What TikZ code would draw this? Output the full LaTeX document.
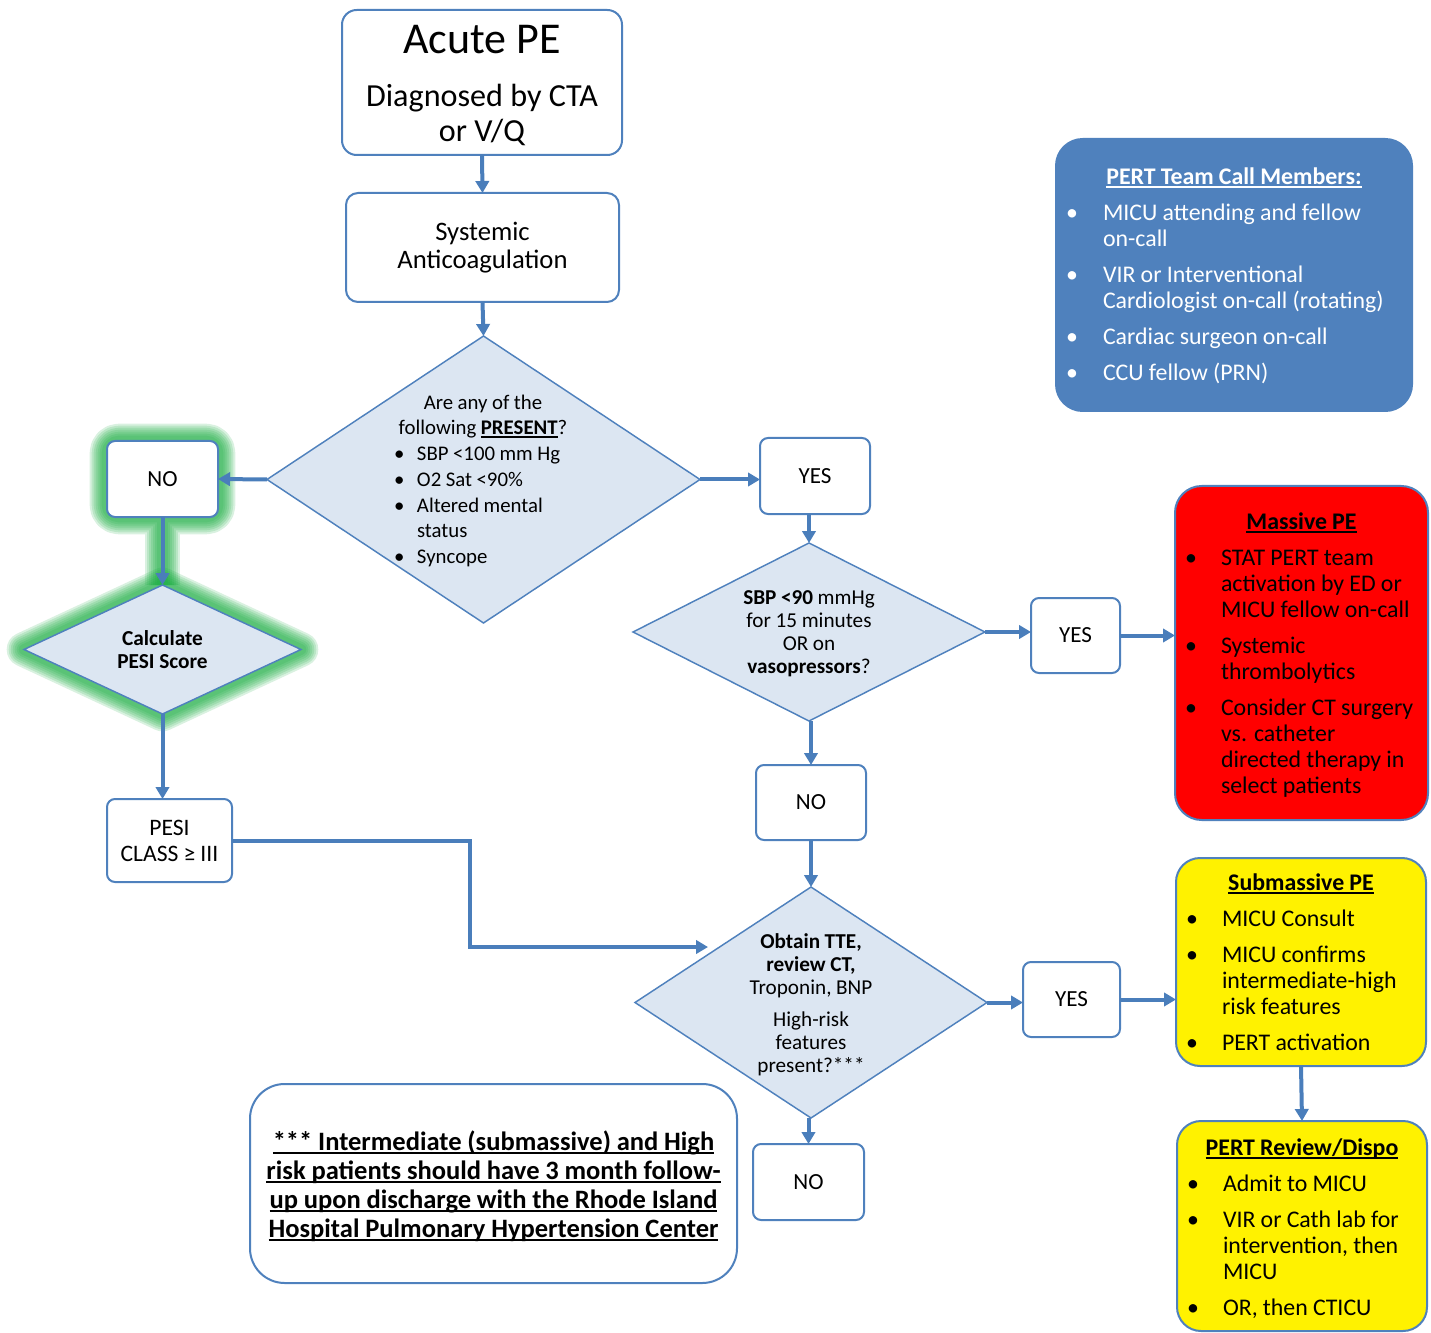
\documentclass[tikz,border=0pt]{standalone}
\usepackage{fontspec}
\setmainfont{Carlito}[WordSpace=0.96]
\newfontfamily\bigf{Carlito}
\usetikzlibrary{shapes.geometric,arrows.meta,calc}
\pgfdeclarelayer{background}
\pgfsetlayers{background,main}
\definecolor{lineblue}{RGB}{74,126,187}
\definecolor{edgeblue}{RGB}{79,129,189}
\definecolor{dfill}{RGB}{220,230,242}
\definecolor{teamblue}{RGB}{79,129,189}
\definecolor{glowgreen}{RGB}{20,170,60}
\setlength\parindent{0pt}
\newcommand\fs[2]{\fontsize{#1pt}{#2pt}\selectfont}
\newcommand\bul[1]{\makebox[#1][l]{\textbullet}}
\newcommand\uln[1]{\leavevmode\setbox0\hbox{#1}\rlap{\rule[-0.13em]{\wd0}{0.065em}}\box0}
\begin{document}
\begin{tikzpicture}[x=0.75pt,y=-0.75pt,
  box/.style={draw=edgeblue, line width=1.5pt, rounded corners=6pt, fill=white, inner sep=0pt, outer sep=0pt, align=center},
  dia/.style={shape=diamond, draw=edgeblue, line width=1.1pt, fill=dfill, inner sep=0pt, outer sep=0pt},
  arr/.style={draw=lineblue, line width=3pt, -{Triangle[width=10pt,length=9pt]}},
  card/.style={draw=edgeblue, line width=1.5pt, rounded corners=20pt, inner xsep=7.5pt, inner ysep=0pt, outer sep=0pt, font=\fs{17.9}{19.5}},
  yn/.style={box, font=\fs{17.3}{20}},
  dtext/.style={inner sep=0pt, align=center, font=\fs{15.9}{17.25}, yshift=-1.5pt},
]
\path[use as bounding box] (0,0) rectangle (1431,1333);

% top chain
\node[box, rounded corners=11pt, minimum width=210pt, minimum height=108.75pt] (acute) at (482,82.5)
  {\parbox{200pt}{\centering\vspace{4.5pt}{\bigf\fs{33}{36}Acute PE\par}\vspace{14pt}{\bigf\fs{24.1}{26.25}Diagnosed by CTA\\or V/Q\par}}};
\node[box, rounded corners=9pt, minimum width=204.75pt, minimum height=81.75pt, text width=195pt, font=\fs{20}{21}] (antico) at (482.5,247.5)
  {Systemic\\Anticoagulation};

\node[dia, minimum width=324.75pt, minimum height=215.25pt] (d1) at (483.5,479.5) {};
\node[font=\fs{15.6}{19.3}, inner sep=0pt] (d1t) at (483,479)
  {\parbox{133.5pt}{\vspace{6pt}{\centering Are any of the\\ following \uln{\textbf{PRESENT}}?\par}
   \begin{tabular}[t]{@{}l@{}l@{}}
   \bul{17.25pt}&SBP <100 mm Hg\\
   \bul{17.25pt}&O2 Sat <90\%\\
   \bul{17.25pt}&Altered mental\\
   &status\\
   \bul{17.25pt}&Syncope
   \end{tabular}}};

\node[yn, minimum width=83.25pt, minimum height=57pt] (no1) at (162.5,479) {NO};
\node[yn, minimum width=82.5pt, minimum height=57pt] (yes1) at (815,476) {YES};

\node[dia, minimum width=207.75pt, minimum height=96.75pt] (calc) at (162.5,649.5) {};
\node[dtext, yshift=1.5pt, font=\fs{16}{17.25}\bfseries] (calct) at (calc.center) {Calculate\\PESI Score};
\node[box, minimum width=93.75pt, minimum height=62.25pt, font=\fs{17.7}{19.5}] (pesi) at (169.5,840.5) {PESI\\CLASS ≥ III};

\node[dia, minimum width=264pt, minimum height=133.5pt] (d2) at (809,632) {};
\node[dtext] (d2t) at (d2.center) {\textbf{SBP <90} mmHg\\for 15 minutes\\OR on\\\textbf{vasopressors}?};
\node[yn, minimum width=66.75pt, minimum height=56.25pt] (yes2) at (1075.5,635.5) {YES};
\node[yn, minimum width=82.5pt, minimum height=56.25pt] (no2) at (811,802.5) {NO};

\node[dia, minimum width=264pt, minimum height=173.25pt] (d3) at (811,1002.5) {};
\node[dtext] (d3t) at (d3.center) {\textbf{Obtain TTE,}\\\textbf{review CT,}\\Troponin, BNP\\[6.75pt]High-risk\\features\\present?***};
\node[yn, minimum width=72.75pt, minimum height=56.25pt] (yes3) at (1071.5,999.5) {YES};
\node[yn, minimum width=83.25pt, minimum height=57pt] (no3) at (808.5,1182) {NO};

% right cards
\node[card, fill=teamblue, draw=teamblue, text=white, minimum width=267pt, minimum height=204pt] (team) at (1234,275)
  {\parbox{252pt}{\vspace{4.5pt}{\centering\uln{\textbf{PERT Team Call Members:}}\par}\vspace{7.5pt}
   \begin{tabular}[t]{@{}l@{}l@{}}
   \bul{27.75pt}&MICU attending and fellow\\ &on-call\\[7.5pt]
   \bul{27.75pt}&VIR or Interventional\\ &Cardiologist on-call (rotating)\\[7.5pt]
   \bul{27.75pt}&Cardiac surgeon on-call\\[7.5pt]
   \bul{27.75pt}&CCU fellow (PRN)
   \end{tabular}}};

\node[card, fill=red, minimum width=189.75pt, minimum height=250.5pt] (massive) at (1301.5,653)
  {\parbox{174.75pt}{\vspace{6pt}{\centering\uln{\textbf{Massive PE}}\par}\vspace{7.5pt}
   \begin{tabular}[t]{@{}l@{}l@{}}
   \bul{27pt}&STAT PERT team\\ &activation by ED or\\ &MICU fellow on-call\\[7.5pt]
   \bul{27pt}&Systemic\\ &thrombolytics\\[7.5pt]
   \bul{27pt}&Consider CT surgery\\ &vs. catheter\\ &directed therapy in\\ &select patients
   \end{tabular}}};

\node[card, fill=yellow, rounded corners=18pt, minimum width=187.5pt, minimum height=156pt] (sub) at (1301,962)
  {\parbox{172.5pt}{\vspace{6pt}{\centering\uln{\textbf{Submassive PE}}\par}\vspace{7.5pt}
   \begin{tabular}[t]{@{}l@{}l@{}}
   \bul{27pt}&MICU Consult\\[7.5pt]
   \bul{27pt}&MICU confirms\\ &intermediate-high\\ &risk features\\[7.5pt]
   \bul{27pt}&PERT activation
   \end{tabular}}};

\node[card, fill=yellow, rounded corners=18pt, minimum width=187.5pt, minimum height=157.5pt] (review) at (1302,1226)
  {\parbox{172.5pt}{\vspace{7.5pt}{\centering\uln{\textbf{PERT Review/Dispo}}\par}\vspace{7.5pt}
   \begin{tabular}[t]{@{}l@{}l@{}}
   \bul{27pt}&Admit to MICU\\[7.5pt]
   \bul{27pt}&VIR or Cath lab for\\ &intervention, then\\ &MICU\\[7.5pt]
   \bul{27pt}&OR, then CTICU
   \end{tabular}}};

\node[box, rounded corners=26pt, minimum width=365.25pt, minimum height=149.25pt, font=\fs{19.9}{21.75}\bfseries] (foot) at (493.5,1183.5)
  {\parbox{360pt}{\centering\vspace{4.5pt}\uln{*** Intermediate (submassive) and High}\\
   \uln{risk patients should have 3 month follow-}\\
   \uln{up upon discharge with the Rhode Island}\\
   \uln{Hospital Pulmonary Hypertension Center}}};

% glow
\begin{pgfonlayer}{background}
\foreach \w in {26pt,23pt,20pt,17pt,14pt,11pt,8pt}{
  \draw[glowgreen, opacity=0.16, line width=\w, line join=round, rounded corners=9pt]
    (no1.south west) rectangle (no1.north east)
    (no1.south) -- (calc.north);
  \draw[glowgreen, opacity=0.16, line width=\w, line join=round]
    (calc.north) -- (calc.east) -- (calc.south) -- (calc.west) -- cycle;
}
\end{pgfonlayer}

% connectors
\coordinate (bend2) at (470,947);
\coordinate (d3in) at (708,947);
\draw[arr] (acute.south) -- (antico.north);
\draw[arr] (antico.south) -- (d1.north);
\draw[arr] (d1.west) -- (no1.east);
\draw[arr] (d1.east) -- (d1.east -| yes1.west);
\draw[arr] (d2.north |- yes1.south) -- (d2.north);
\draw[arr] (d2.east) -- (d2.east -| yes2.west);
\draw[arr] (yes2.east) -- (yes2.east -| massive.west);
\draw[arr] (no2.north |- d2.south) -- (no2.north);
\draw[arr] (no2.south) -- (d3.north);
\draw[arr] (d3.east) -- (d3.east -| yes3.west);
\draw[arr] (yes3.east) -- (yes3.east -| sub.west);
\draw[arr] (sub.south) -- (review.north);
\draw[arr] (no3.north |- d3.south) -- (no3.north);
\draw[arr] (no1.south) -- (calc.north);
\draw[arr] (calc.south) -- (calc.south |- pesi.north);
\draw[arr] (pesi.east) -| (bend2) -- (d3in);
\end{tikzpicture}
\end{document}
